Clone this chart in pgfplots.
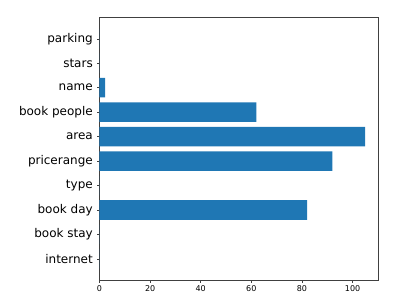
\documentclass[border=0pt]{standalone}
\usepackage{pgfplots}
\pgfplotsset{compat=1.18}
\usepackage{fontspec}
\setmainfont{DejaVu Sans}
\definecolor{mplblue}{HTML}{1F77B4}
\begin{document}
\begin{tikzpicture}[x=1pt,y=1pt]
\useasboundingbox (-99.5pt,-18.3pt) rectangle (299.5pt,280.7pt);
\begin{axis}[
  at={(0pt,0pt)}, anchor=south west,
  scale only axis,
  width=279pt, height=263.7pt,
  xbar,
  bar width=0.8,
  xmin=0, xmax=110.25,
  ymin=-0.89, ymax=9.89,
  ytick={0,1,2,3,4,5,6,7,8,9},
  yticklabels={internet,book stay,book day,type,pricerange,area,book people,name,stars,parking},
  xtick={0,20,40,60,80,100},
  tick align=outside,
  tick pos=left,
  major tick length=2.2pt,
  axis line style={black!75, line width=0.6pt},
  tick style={black!75, line width=0.5pt},
  /pgf/number format/assume math mode=true,
  yticklabel style={font=\fontsize{12}{14}\selectfont, xshift=-1pt},
  xticklabel style={font=\fontsize{8}{9}\selectfont, yshift=1pt},
]
\addplot[fill=mplblue, draw=none] coordinates {
  (0,0) (0,1) (82,2) (0,3) (92,4) (105,5) (62,6) (2.2,7) (0,8) (0,9)
};
\end{axis}
\end{tikzpicture}
\end{document}
